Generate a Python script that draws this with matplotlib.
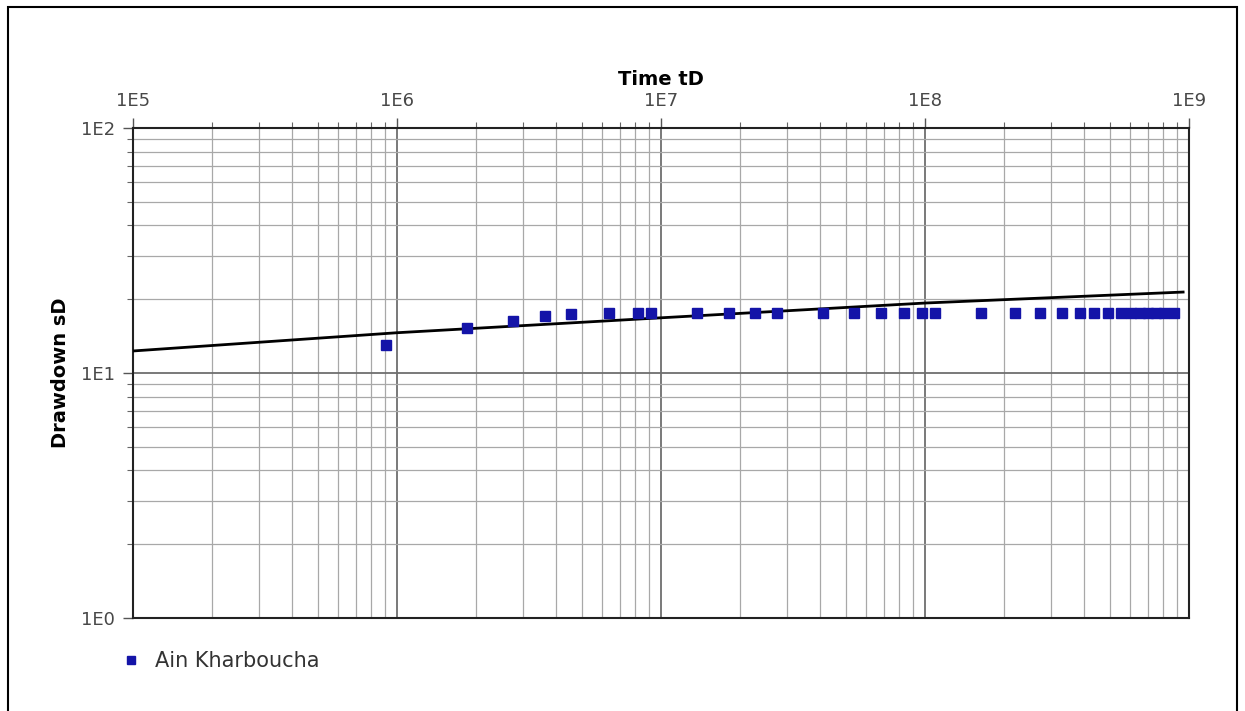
import matplotlib
matplotlib.use('Agg')
import matplotlib.pyplot as plt
from matplotlib.ticker import LogLocator, NullFormatter, FixedLocator, FixedFormatter
from matplotlib.patches import Rectangle

# observed drawdown, Ain Kharboucha well
t_obs = [9.1e5, 1.84e6, 2.75e6, 3.64e6, 4.56e6, 6.35e6, 8.2e6, 9.2e6,
         1.37e7, 1.81e7, 2.27e7, 2.75e7, 4.1e7, 5.4e7, 6.8e7, 8.3e7,
         9.7e7, 1.09e8, 1.63e8, 2.19e8, 2.73e8, 3.3e8, 3.86e8, 4.37e8,
         4.93e8, 5.52e8, 6.03e8, 6.52e8, 7.0e8, 7.5e8, 8.04e8, 8.77e8]
s_obs = [13.0, 15.3, 16.3, 17.1, 17.4, 17.6, 17.6, 17.6,
         17.6, 17.6, 17.6, 17.6, 17.6, 17.6, 17.6, 17.6,
         17.6, 17.6, 17.6, 17.6, 17.6, 17.6, 17.6, 17.6,
         17.6, 17.6, 17.6, 17.6, 17.6, 17.6, 17.6, 17.6]

# fitted type curve
t_fit = [1e5, 1e6, 1e7, 1e8, 9.5e8]
s_fit = [12.3, 14.6, 16.8, 19.3, 21.4]

x_labels = ['1E5', '1E6', '1E7', '1E8', '1E9']
y_labels = ['1E0', '1E1', '1E2']

W, H = 1245, 711
fig = plt.figure(figsize=(W / 100, H / 100), dpi=100)
ax = fig.add_axes([133 / W, 1 - 618 / H, 1056 / W, 490 / H])

ax.set_xscale('log')
ax.set_yscale('log')
ax.set_xlim(1e5, 1e9)
ax.set_ylim(1, 100)

ax.plot(t_fit, s_fit, color='black', lw=2.0, zorder=3)
ax.plot(t_obs, s_obs, 's', color='#1414a8', ms=6.5, mec='#1414a8',
        zorder=4, label='Ain Kharboucha')

ax.xaxis.tick_top()
ax.xaxis.set_label_position('top')
ax.xaxis.set_major_locator(FixedLocator([1e5, 1e6, 1e7, 1e8, 1e9]))
ax.xaxis.set_major_formatter(FixedFormatter(x_labels))
ax.yaxis.set_major_locator(FixedLocator([1, 10, 100]))
ax.yaxis.set_major_formatter(FixedFormatter(y_labels))
ax.xaxis.set_minor_locator(LogLocator(base=10, subs=range(2, 10)))
ax.yaxis.set_minor_locator(LogLocator(base=10, subs=range(2, 10)))
ax.xaxis.set_minor_formatter(NullFormatter())
ax.yaxis.set_minor_formatter(NullFormatter())

ax.grid(True, which='major', color='#6e6e6e', lw=1.3)
ax.grid(True, which='minor', color='#a8a8a8', lw=0.9)
ax.set_axisbelow(True)

ax.tick_params(which='major', length=7, width=1, color='#555555',
               labelsize=13, labelcolor='#484848', pad=6)
ax.tick_params(which='minor', length=4, width=0.8, color='#666666')
for sp in ax.spines.values():
    sp.set_color('#222222')
    sp.set_linewidth(1.5)

ax.set_xlabel('Time tD', fontsize=14, fontweight='bold', labelpad=5)
ax.set_ylabel('Drawdown sD', fontsize=14, fontweight='bold', labelpad=8)

leg = ax.legend(loc='upper left', bbox_to_anchor=(-0.026, -0.03),
                frameon=False, fontsize=15, handlelength=0.6,
                handletextpad=0.85, markerscale=0.85)
for txt in leg.get_texts():
    txt.set_color('#333333')

# outer frame
fig.patches.append(Rectangle((8 / W, -0.05), 1229 / W, 1 - 7 / H + 0.05,
                             transform=fig.transFigure, fill=False,
                             edgecolor='black', lw=1.5))

fig.savefig('out.png', dpi=100)
